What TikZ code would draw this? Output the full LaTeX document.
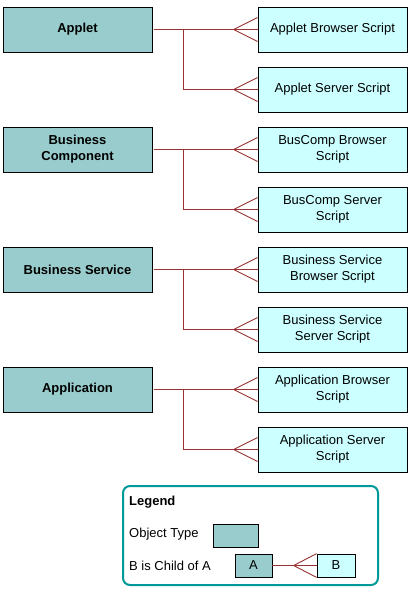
\documentclass[tikz,border=0pt]{standalone}
\usepackage{fontspec}
\setmainfont{Liberation Sans}
\definecolor{parentfill}{HTML}{99CCCC}
\definecolor{childfill}{HTML}{CCFFFF}
\definecolor{linkred}{HTML}{993333}
\definecolor{legendteal}{HTML}{009999}
\begin{document}
\begin{tikzpicture}[x=1pt,y=-1pt,
  parentbox/.style={draw=black,line width=1pt,fill=parentfill,minimum width=149pt,minimum height=45pt,inner sep=0pt,align=center,font=\fontsize{13}{16}\selectfont\bfseries},
  childbox/.style={draw=black,line width=0.8pt,fill=childfill,minimum width=149pt,minimum height=45pt,inner sep=0pt,align=center,font=\fontsize{13}{16}\selectfont},
  link/.style={draw=linkred,line width=0.9pt},
  smallparent/.style={draw=black,line width=0.8pt,fill=parentfill,inner sep=0pt,align=center,font=\fontsize{13}{16}\selectfont},
  smallchild/.style={draw=black,line width=0.8pt,fill=childfill,inner sep=0pt,align=center,font=\fontsize{13}{16}\selectfont},
  legtext/.style={anchor=west,inner sep=0pt,font=\fontsize{13}{16}\selectfont}
]
\useasboundingbox (0,0) rectangle (410,589);

% groups
\foreach \i/\ptext/\atext/\btext in {
  1/{Applet}/{Applet Browser Script}/{Applet Server Script},
  2/{Business\\Component}/{BusComp Browser\\Script}/{BusComp Server\\Script},
  3/{Business Service}/{Business Service\\Browser Script}/{Business Service\\Server Script},
  4/{Application}/{Application Browser\\Script}/{Application Server\\Script}}{
  \pgfmathsetmacro{\yy}{29.5+120*(\i-1)}
  \node[parentbox] (p\i) at (77.5,\yy) {\ptext};
  \node[childbox] (c\i a) at (332.5,\yy) {\atext};
  \node[childbox] (c\i b) at (332.5,\yy+60) {\btext};
  \coordinate (b\i) at ([xshift=31pt]p\i.east);
  \coordinate (fa\i) at ([xshift=-24pt]c\i a.west);
  \coordinate (fb\i) at ([xshift=-24pt]c\i b.west);
  \draw[link] ([xshift=1.5pt]p\i.east) -- (c\i a.west);
  \draw[link] (b\i) |- (c\i b.west);
  \draw[link] (fa\i) -- ([yshift=-12pt]c\i a.west) (fa\i) -- ([yshift=12pt]c\i a.west);
  \draw[link] (fb\i) -- ([yshift=-12pt]c\i b.west) (fb\i) -- ([yshift=12pt]c\i b.west);
}

% legend
\draw[draw=legendteal,line width=2pt,rounded corners=7pt] (123,486) rectangle (378,585);
\node[legtext,font=\fontsize{13}{16}\selectfont\bfseries] (lg) at (129,502) {Legend};
\node[legtext] (lo) at (129,534) {Object Type};
\node[smallparent,minimum width=45pt,minimum height=23pt] (sw) at (235.5,535.5) {};
\node[legtext] (lc) at (129,566) {B is Child of A};
\node[smallparent,minimum width=37pt,minimum height=23pt] (la) at (253.5,565.5) {A};
\node[smallchild,minimum width=38pt,minimum height=23pt] (lb) at (336,565.5) {B};
\coordinate (lf) at ([xshift=-23pt]lb.west);
\draw[link] (la.east) -- (lb.west);
\draw[link] (lf) -- (lb.north west) (lf) -- (lb.south west);
\end{tikzpicture}
\end{document}
